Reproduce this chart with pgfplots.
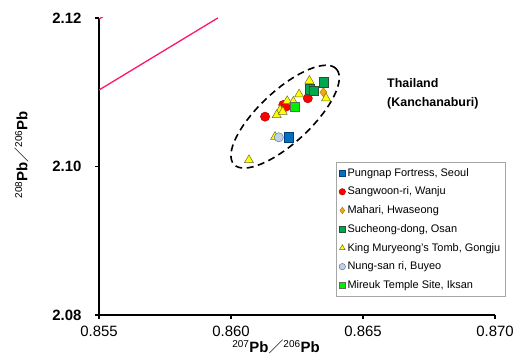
\documentclass[border=0pt]{standalone}
\usepackage{pgfplots}
\pgfplotsset{compat=1.18}
\usepackage{fontspec}
\setmainfont{Liberation Sans}
\newfontfamily\cjk{Noto Sans CJK JP}
\definecolor{pinkline}{RGB}{255,20,110}
\definecolor{pungfill}{RGB}{0,112,192}
\definecolor{pungdraw}{RGB}{0,60,120}
\definecolor{redfill}{RGB}{255,0,0}
\definecolor{reddraw}{RGB}{170,0,0}
\definecolor{mahfill}{RGB}{240,170,20}
\definecolor{mahdraw}{RGB}{190,120,0}
\definecolor{sucfill}{RGB}{0,166,80}
\definecolor{sucdraw}{RGB}{40,80,50}
\definecolor{kingfill}{RGB}{255,255,0}
\definecolor{kingdraw}{RGB}{110,110,60}
\definecolor{nungfill}{RGB}{190,210,235}
\definecolor{nungdraw}{RGB}{110,120,130}
\definecolor{mirfill}{RGB}{0,240,0}
\definecolor{mirdraw}{RGB}{90,110,90}
\begin{document}
\begin{tikzpicture}
\begin{axis}[
  scale only axis,
  width=396bp, height=297bp,
  xmin=0.855, xmax=0.870, ymin=2.08, ymax=2.12,
  axis x line*=bottom, axis y line*=left,
  axis line style={line width=1.6bp, black},
  xtick={0.855,0.860,0.865,0.870},
  ytick={2.08,2.10,2.12},
  tick align=outside,
  major tick length=4bp,
  tick style={line width=1.4bp, black},
  /pgf/number format/assume math mode=true,
  xticklabel style={/pgf/number format/.cd, fixed, precision=3, zerofill, /tikz/.cd,
    font=\fontsize{15}{18}\selectfont, yshift=-4bp},
  yticklabel style={/pgf/number format/.cd, fixed, precision=2, zerofill, /tikz/.cd,
    font=\bfseries\fontsize{15}{18}\selectfont, xshift=-10bp},
  scaled x ticks=false, scaled y ticks=false,
  xlabel={\textsuperscript{\fontsize{10}{10}\selectfont 207}\textbf{Pb}{\cjk ／}\textsuperscript{\fontsize{10}{10}\selectfont 206}\textbf{Pb}},
  ylabel={\textsuperscript{\fontsize{10}{10}\selectfont 208}\textbf{Pb}{\cjk ／}\textsuperscript{\fontsize{10}{10}\selectfont 206}\textbf{Pb}},
  xlabel style={font=\fontsize{15}{18}\selectfont, at={(axis description cs:0.447,0)}, anchor=base, yshift=-38bp},
  ylabel style={font=\fontsize{15}{18}\selectfont, at={(axis description cs:-0.195,0.54)}, anchor=center},
  clip=true,
  legend cell align=left,
  legend style={at={(0.598,0.515)}, anchor=north west, draw=gray!70, line width=0.6bp,
    font=\fontsize{11}{12.5}\selectfont, row sep=5.3bp, inner xsep=3bp, inner ysep=4bp},
  legend image code/.code={\draw[#1, mark size=3.2bp] plot coordinates {(0.1cm,0cm)};},
]
\addplot[pinkline, line width=1.3bp, forget plot] coordinates {(0.855,2.1103) (0.8595,2.1200)};
\addplot[pinkline, line width=1.3bp, forget plot] coordinates {(0.855,2.11985) (0.8552,2.1203)};

\addplot[only marks, mark=square*, mark size=4.6bp, mark options={fill=pungfill, draw=pungdraw, line width=0.5bp}]
  coordinates {(0.86220,2.10393)};
\addlegendentry{Pungnap Fortress, Seoul}
\addplot[only marks, mark=*, mark size=4.6bp, mark options={fill=redfill, draw=reddraw, line width=0.5bp}]
  coordinates {(0.86291,2.10919) (0.86198,2.10828) (0.86208,2.10805) (0.86129,2.10671)};
\addlegendentry{Sangwoon-ri, Wanju}
\addplot[only marks, mark=diamond*, mark size=4.6bp, mark options={fill=mahfill, draw=mahdraw, line width=0.5bp}]
  coordinates {(0.86350,2.11000)};
\addlegendentry{Mahari, Hwaseong}
\addplot[only marks, mark=square*, mark size=4.6bp, mark options={fill=sucfill, draw=sucdraw, line width=0.5bp}]
  coordinates {(0.86350,2.11134) (0.86299,2.11040) (0.86312,2.11021)};
\addlegendentry{Sucheong-dong, Osan}
\addplot[only marks, mark=triangle*, mark size=5.2bp, mark options={fill=kingfill, draw=kingdraw, line width=0.5bp}]
  coordinates {(0.86297,2.11156) (0.86360,2.10919) (0.86258,2.10972) (0.86213,2.10882)
   (0.86236,2.10873) (0.86186,2.10761) (0.86173,2.10694) (0.86196,2.10738)
   (0.86167,2.10401) (0.86068,2.10087)};
\addlegendentry{King Muryeong's Tomb, Gongju}
\addplot[only marks, mark=*, mark size=4.6bp, mark options={fill=nungfill, draw=nungdraw, line width=0.5bp}]
  coordinates {(0.86181,2.10393)};
\addlegendentry{Nung-san ri, Buyeo}
\addplot[only marks, mark=square*, mark size=4.6bp, mark options={fill=mirfill, draw=mirdraw, line width=0.5bp}]
  coordinates {(0.86240,2.10805)};
\addlegendentry{Mireuk Temple Site, Iksan}

\coordinate (E) at (axis cs:0.86205,2.10671);
\node[anchor=north west, inner sep=0pt, align=left, font=\bfseries\fontsize{12.5}{19}\selectfont]
  at (axis cs:0.86591,2.11192) {Thailand\\(Kanchanaburi)};
\end{axis}
\draw[black, line width=1.6bp, dash pattern=on 7bp off 4.5bp, rotate around={43:(E)}]
  (E) ellipse [x radius=70bp, y radius=26bp];
\pgfresetboundingbox
\useasboundingbox ([shift={(-99bp,-47bp)}]current axis.south west) rectangle ([shift={(26bp,18bp)}]current axis.north east);
\end{tikzpicture}
\end{document}
